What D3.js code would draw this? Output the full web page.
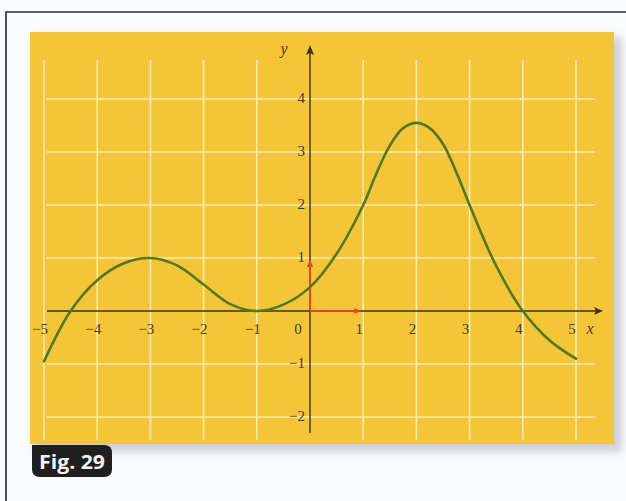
<!DOCTYPE html>
<html>
<head>
<meta charset="utf-8">
<script src="https://cdn.jsdelivr.net/npm/d3@7"></script>
<style>
  html, body { margin: 0; padding: 0; background: #fbfcfd; }
  svg { display: block; }
</style>
</head>
<body>
<svg id="chart" width="626" height="501"></svg>
<script>
// Function graph: sample points of f(x) on [-5, 5]
const xs = [-5, -4.5, -4, -3.5, -3, -2.5, -2, -1.5, -1, -0.5, 0, 0.5, 1, 1.25, 1.5, 1.75, 2, 2.25, 2.5, 2.75, 3, 3.5, 4, 4.5, 5];
const ys = [-0.95, 0.0, 0.58, 0.9, 1.0, 0.86, 0.5, 0.13, 0.0, 0.12, 0.45, 1.08, 2.0, 2.6, 3.12, 3.45, 3.55, 3.45, 3.15, 2.62, 2.0, 0.85, 0.0, -0.55, -0.9];

// Axis labels
const xTicks = [-5, -4, -3, -2, -1, 0, 1, 2, 3, 4, 5];
const yTicks = [-2, -1, 1, 2, 3, 4];
const xGrid = [-5, -4, -3, -2, -1, 1, 2, 3, 4, 5];
const yGrid = [-2, -1, 1, 2, 3, 4];
const figLabel = "Fig. 29";

const svg = d3.select("#chart");

const x = d3.scaleLinear().domain([-5, 5]).range([44, 576]);
const y = d3.scaleLinear().domain([-2, 4]).range([417, 99]);

const fmt = v => (v < 0 ? "\u2212" + Math.abs(v) : String(v));

// Page frame
svg.append("path")
  .attr("d", "M6,501 L6,12 L626,12")
  .attr("fill", "none")
  .attr("stroke", "#2a2a2a")
  .attr("stroke-width", 1.6);

// Soft shadow behind the panel
const defs = svg.append("defs");
const f = defs.append("filter").attr("id", "shadow").attr("x", "-10%").attr("y", "-10%").attr("width", "120%").attr("height", "120%");
f.append("feGaussianBlur").attr("stdDeviation", 4);

svg.append("rect")
  .attr("x", 35).attr("y", 37).attr("width", 587).attr("height", 415)
  .attr("fill", "#aeb2b9").attr("opacity", 0.6)
  .attr("filter", "url(#shadow)");

// Yellow panel
svg.append("rect")
  .attr("x", 30).attr("y", 32).attr("width", 584).attr("height", 412)
  .attr("fill", "#f4c637");

// Grid
const grid = svg.append("g").attr("stroke", "#fff3cc").attr("stroke-width", 1.6).attr("opacity", 0.85);
grid.selectAll("line.v").data(xGrid).join("line")
  .attr("x1", d => x(d)).attr("x2", d => x(d))
  .attr("y1", 60).attr("y2", 440);
grid.selectAll("line.h").data(yGrid).join("line")
  .attr("x1", 47).attr("x2", 595)
  .attr("y1", d => y(d)).attr("y2", d => y(d));

// Axes
const axisColor = "#3a3320";
svg.append("line")
  .attr("x1", 47).attr("x2", 598)
  .attr("y1", y(0)).attr("y2", y(0))
  .attr("stroke", axisColor).attr("stroke-width", 1.4);
svg.append("path")
  .attr("d", `M${603},${y(0)} L${594},${y(0) - 4} L${596},${y(0)} L${594},${y(0) + 4} Z`)
  .attr("fill", axisColor);

svg.append("line")
  .attr("x1", x(0)).attr("x2", x(0))
  .attr("y1", 433).attr("y2", 52)
  .attr("stroke", axisColor).attr("stroke-width", 1.4);
svg.append("path")
  .attr("d", `M${x(0)},${45} L${x(0) - 4},${55} L${x(0)},${53} L${x(0) + 4},${55} Z`)
  .attr("fill", axisColor);

// Unit vectors
const red = "#e2462a";
svg.append("line")
  .attr("x1", x(0)).attr("x2", x(1) - 4)
  .attr("y1", y(0)).attr("y2", y(0))
  .attr("stroke", red).attr("stroke-width", 2);
svg.append("path")
  .attr("d", `M${x(1) - 2},${y(0)} L${x(1) - 9},${y(0) - 3} L${x(1) - 9},${y(0) + 3} Z`)
  .attr("fill", red);
svg.append("line")
  .attr("x1", x(0)).attr("x2", x(0))
  .attr("y1", y(0)).attr("y2", y(1) + 4)
  .attr("stroke", red).attr("stroke-width", 2);
svg.append("path")
  .attr("d", `M${x(0)},${y(1) + 1} L${x(0) - 3},${y(1) + 9} L${x(0) + 3},${y(1) + 9} Z`)
  .attr("fill", red);

// Tick labels
const labelFont = "'Liberation Serif', 'DejaVu Serif', serif";
const labelColor = "#3d3a28";
svg.append("g").selectAll("text").data(xTicks).join("text")
  .attr("x", d => x(d) + (d === 0 ? -12 : -4))
  .attr("y", y(0) + 23)
  .attr("text-anchor", "middle")
  .attr("font-family", labelFont)
  .attr("font-size", 15)
  .attr("fill", labelColor)
  .text(fmt);

svg.append("g").selectAll("text").data(yTicks).join("text")
  .attr("x", x(0) - 5)
  .attr("y", d => y(d) + 4)
  .attr("text-anchor", "end")
  .attr("font-family", labelFont)
  .attr("font-size", 15)
  .attr("fill", labelColor)
  .text(fmt);

svg.append("text")
  .attr("x", 590).attr("y", y(0) + 23)
  .attr("text-anchor", "middle")
  .attr("font-family", labelFont).attr("font-style", "italic")
  .attr("font-size", 16).attr("fill", labelColor)
  .text("x");
svg.append("text")
  .attr("x", 284).attr("y", 54)
  .attr("text-anchor", "middle")
  .attr("font-family", labelFont).attr("font-style", "italic")
  .attr("font-size", 16).attr("fill", labelColor)
  .text("y");

// Curve
const line = d3.line()
  .x((d, i) => x(xs[i]))
  .y(d => y(d))
  .curve(d3.curveCatmullRom.alpha(0.5));
svg.append("path")
  .datum(ys)
  .attr("d", line)
  .attr("fill", "none")
  .attr("stroke", "#4c7a22")
  .attr("stroke-width", 2.6)
  .attr("stroke-linecap", "round");

// Figure tag
svg.append("path")
  .attr("d", "M32,445 L104,445 Q112,445 112,453 L112,469 Q112,477 104,477 L40,477 Q32,477 32,469 Z")
  .attr("fill", "#1f1f1f");
svg.append("text")
  .attr("x", 72).attr("y", 469)
  .attr("text-anchor", "middle")
  .attr("font-family", "'Open Sans', 'Liberation Sans', sans-serif")
  .attr("font-weight", "bold")
  .attr("font-size", 20)
  .attr("textLength", 66)
  .attr("lengthAdjust", "spacingAndGlyphs")
  .attr("fill", "#f4f4f4")
  .text(figLabel);
</script>
</body>
</html>
